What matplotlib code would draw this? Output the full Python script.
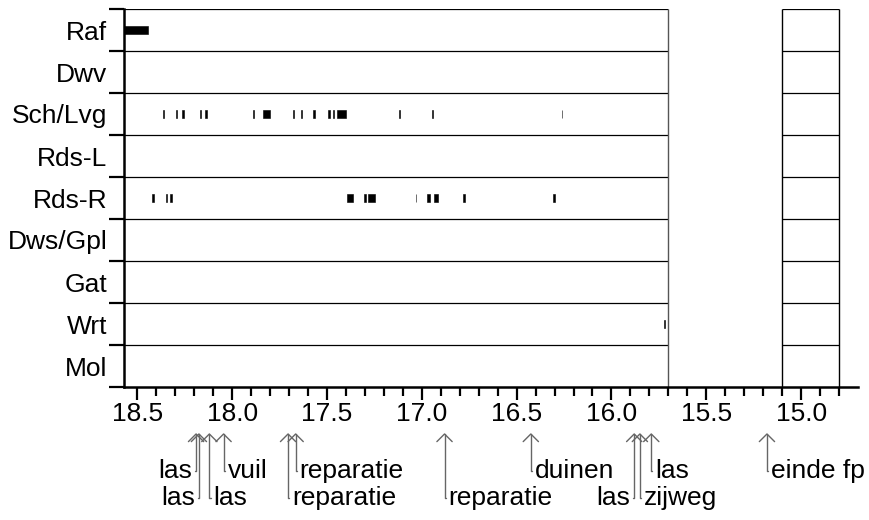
import matplotlib
matplotlib.use('Agg')
import matplotlib.pyplot as plt
import numpy as np

plt.rcParams['font.family'] = ['Liberation Sans', 'DejaVu Sans']

# Data: rows (top to bottom) and observed stretches per row as (km from, km to)
rows = ['Raf', 'Dwv', 'Sch/Lvg', 'Rds-L', 'Rds-R', 'Dws/Gpl', 'Gat', 'Wrt', 'Mol']

raf = [(18.60, 18.442)]
dwv = []
sch_lvg = [(18.362, 18.357), (18.296, 18.292), (18.266, 18.254), (18.171, 18.162),
           (18.141, 18.131), (17.888, 17.883), (17.839, 17.802), (17.679, 17.675),
           (17.635, 17.631), (17.571, 17.564), (17.492, 17.484), (17.469, 17.463),
           (17.445, 17.401), (17.118, 17.114), (16.945, 16.940), (16.263, 16.259)]
rds_l = []
rds_r = [(18.421, 18.413), (18.351, 18.342), (18.330, 18.315), (17.396, 17.364),
         (17.307, 17.292), (17.286, 17.246), (17.033, 17.029), (16.973, 16.959),
         (16.933, 16.917), (16.785, 16.773), (16.307, 16.298)]
dws_gpl = []
gat = []
wrt = [(15.723, 15.719)]
mol = []

# annotations below the axis
annot_km = [18.19, 18.175, 18.12, 18.045, 17.705, 17.665, 16.88, 16.425, 15.88, 15.85, 15.79, 15.18]
annot_text = ['las', 'las', 'las', 'vuil', 'reparatie', 'reparatie', 'reparatie',
              'duinen', 'las', 'zijweg', 'las', 'einde fp']
annot_row = [1, 2, 2, 1, 2, 1, 2, 1, 2, 2, 1, 1]
annot_side = ['l', 'l', 'r', 'r', 'r', 'r', 'r', 'r', 'l', 'r', 'r', 'r']

# boxes (km ranges)
box_a = (18.57, 15.7)
box_b = (15.1, 14.8)

fig = plt.figure(figsize=(8.7, 5.2), dpi=100)
ax = fig.add_axes([124 / 870, 1 - 387 / 520, (858 - 124) / 870, 378 / 520])

series = [raf, dwv, sch_lvg, rds_l, rds_r, dws_gpl, gat, wrt, mol]
for i, segs in enumerate(series):
    for a, b in segs:
        ax.barh(i + 0.5, a - b, left=b, height=0.2, color='black',
                edgecolor='black', linewidth=0.4)

# grid boxes
for y in range(9):
    ax.hlines(y, box_a[1], box_a[0], color='black', lw=0.9)
    ax.hlines(y, box_b[1], box_b[0], color='black', lw=0.9)
ax.vlines([box_a[1]], 0, 9, color='#555555', lw=1.0)
ax.vlines([box_b[0], box_b[1]], 0, 9, color='black', lw=1.0)

ax.set_xlim(18.57, 14.70)
ax.set_ylim(9, 0)

for s in ['top', 'right']:
    ax.spines[s].set_visible(False)
ax.spines['left'].set_linewidth(1.8)
ax.spines['bottom'].set_linewidth(1.8)

ax.set_xticks(np.arange(18.5, 14.9, -0.5))
ax.set_xticks(np.arange(18.5, 14.75, -0.1), minor=True)
ax.tick_params(axis='x', which='major', length=9, width=1.6, labelsize=19, pad=2)
ax.tick_params(axis='x', which='minor', length=6.5, width=1.6)

ax.set_yticks(range(10))
ax.set_yticklabels([])
ax.set_yticks(np.arange(0.5, 9, 1), minor=True)
ax.set_yticklabels(rows, minor=True)
ax.tick_params(axis='y', which='major', length=11, width=1.6)
ax.tick_params(axis='y', which='minor', length=0, labelsize=19, pad=12)

trans = ax.get_xaxis_transform()
tip_y = (387 - 433) / 378
row_off = {1: -38, 2: -65}
for km, txt, r, side in zip(annot_km, annot_text, annot_row, annot_side):
    dx = 4 if side == 'r' else -4
    ax.annotate(txt, xy=(km, tip_y), xycoords=trans,
                xytext=(dx, row_off[r]), textcoords='offset pixels',
                ha='left' if side == 'r' else 'right', va='center', fontsize=19,
                annotation_clip=False,
                arrowprops=dict(arrowstyle='->,head_length=0.55,head_width=0.55',
                                mutation_scale=10, color='#666666', lw=1.0,
                                shrinkA=0, shrinkB=0,
                                relpos=(0, 0.5) if side == 'r' else (1, 0.5),
                                connectionstyle='angle,angleA=0,angleB=90,rad=0'))

fig.savefig('out.png', dpi=100)
